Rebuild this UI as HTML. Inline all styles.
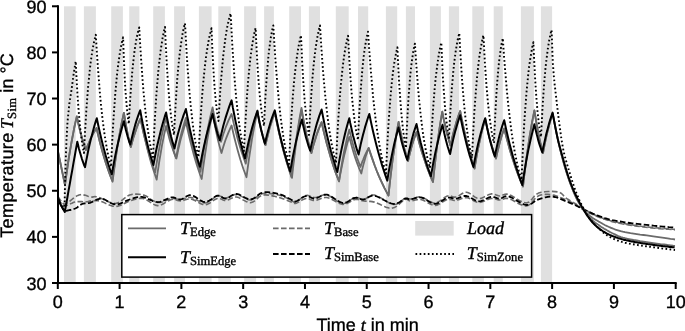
<!DOCTYPE html>
<html><head><meta charset="utf-8"><style>
html,body{margin:0;padding:0;background:#fff;width:685px;height:331px;overflow:hidden}
svg{display:block;will-change:transform}
text{text-rendering:geometricPrecision;stroke:#000;stroke-width:0.35px}
</style></head><body>
<svg width="685" height="331" viewBox="0 0 685 331">
<g fill="#e0e0e0">
<rect x="64.0" y="6.3" width="11.7" height="276"/>
<rect x="83.9" y="6.3" width="12.0" height="276"/>
<rect x="111.2" y="6.3" width="11.7" height="276"/>
<rect x="129.2" y="6.3" width="10.2" height="276"/>
<rect x="153.2" y="6.3" width="11.7" height="276"/>
<rect x="174.1" y="6.3" width="10.9" height="276"/>
<rect x="198.9" y="6.3" width="12.7" height="276"/>
<rect x="218.3" y="6.3" width="12.5" height="276"/>
<rect x="244.1" y="6.3" width="12.0" height="276"/>
<rect x="264.1" y="6.3" width="9.8" height="276"/>
<rect x="289.2" y="6.3" width="11.8" height="276"/>
<rect x="308.9" y="6.3" width="11.1" height="276"/>
<rect x="335.8" y="6.3" width="12.9" height="276"/>
<rect x="358.0" y="6.3" width="10.2" height="276"/>
<rect x="385.9" y="6.3" width="11.3" height="276"/>
<rect x="405.9" y="6.3" width="9.1" height="276"/>
<rect x="429.9" y="6.3" width="11.0" height="276"/>
<rect x="448.9" y="6.3" width="10.2" height="276"/>
<rect x="472.3" y="6.3" width="11.6" height="276"/>
<rect x="493.7" y="6.3" width="9.1" height="276"/>
<rect x="520.9" y="6.3" width="13.0" height="276"/>
<rect x="540.9" y="6.3" width="11.2" height="276"/>
</g>
<g fill="none" stroke-linejoin="round">
<path d="M58.0 198.5 L58.3 199.0 58.8 199.7 59.3 200.6 59.9 201.4 60.4 202.3 61.0 203.0 61.5 203.6 62.1 204.3 62.6 204.9 63.2 205.4 63.8 205.8 64.5 206.0 65.3 206.0 66.2 205.7 67.1 205.3 68.0 204.9 69.0 204.4 70.0 204.0 70.9 203.6 71.9 203.2 72.8 202.7 73.8 202.3 74.9 202.0 76.2 201.7 77.8 201.6 79.6 201.6 81.6 201.6 83.5 201.7 85.3 201.7 86.7 201.7 87.7 201.6 88.4 201.5 88.9 201.3 89.4 201.1 90.1 201.0 91.0 200.9 92.2 200.8 93.4 200.7 94.8 200.6 96.3 200.5 98.1 200.7 100.0 201.0 102.2 201.7 104.7 202.9 107.3 204.1 110.1 205.3 112.8 206.2 115.5 206.5 118.2 206.1 120.9 205.2 123.6 203.9 126.3 202.5 128.9 201.3 131.3 200.4 133.5 199.7 135.6 199.2 137.6 198.7 139.5 198.4 141.5 198.3 143.6 198.6 145.8 199.4 148.1 200.8 150.5 202.4 152.9 203.9 155.2 205.1 157.6 205.6 160.0 205.3 162.5 204.3 164.9 202.9 167.3 201.5 169.6 200.2 171.6 199.5 173.4 199.3 174.9 199.5 176.3 199.9 177.6 200.4 179.0 200.8 180.5 200.9 182.1 200.7 183.8 200.2 185.4 199.7 187.2 199.2 189.0 198.9 191.0 199.0 193.2 199.7 195.5 200.8 197.9 202.2 200.3 203.5 202.7 204.4 205.0 204.8 207.2 204.4 209.4 203.3 211.5 201.9 213.5 200.4 215.5 199.2 217.3 198.5 218.9 198.4 220.4 198.8 221.8 199.3 223.1 199.9 224.5 200.4 226.0 200.5 227.6 200.1 229.2 199.4 230.9 198.5 232.7 197.7 234.5 197.1 236.5 197.0 238.7 197.6 241.0 198.7 243.4 200.1 245.9 201.4 248.3 202.4 250.6 202.7 252.7 202.1 254.7 200.8 256.6 199.1 258.5 197.4 260.6 195.9 262.8 195.1 265.3 194.9 268.0 195.1 270.8 195.5 273.5 196.1 276.2 196.8 278.6 197.4 280.8 198.0 282.9 198.7 284.9 199.5 286.8 200.2 288.5 200.9 290.0 201.5 291.2 202.0 292.1 202.5 292.8 203.0 293.5 203.4 294.4 203.5 295.5 203.4 297.0 202.9 298.7 202.0 300.5 200.9 302.4 199.9 304.3 199.0 306.0 198.5 307.5 198.5 308.9 198.8 310.3 199.4 311.7 199.9 313.2 200.4 314.8 200.5 316.6 200.2 318.5 199.5 320.5 198.7 322.5 198.0 324.7 197.5 327.0 197.5 329.5 198.2 332.1 199.5 334.9 201.1 337.7 202.6 340.3 203.8 342.8 204.4 345.1 204.2 347.3 203.4 349.3 202.3 351.3 201.1 353.2 200.1 355.0 199.5 356.6 199.4 358.1 199.5 359.5 199.9 360.9 200.3 362.3 200.7 363.8 201.0 365.4 201.1 366.9 201.2 368.5 201.3 370.2 201.4 372.1 201.6 374.3 202.1 376.9 203.0 379.8 204.3 382.9 205.8 386.0 207.2 389.1 208.1 391.8 208.3 394.3 207.6 396.8 206.1 399.2 204.2 401.3 202.2 403.3 200.5 405.0 199.5 406.3 199.2 407.2 199.3 407.9 199.8 408.6 200.3 409.4 200.8 410.5 201.0 411.9 200.8 413.5 200.4 415.2 200.0 417.1 199.6 419.0 199.4 421.0 199.5 423.2 200.2 425.5 201.4 427.9 202.8 430.3 204.1 432.7 205.1 435.0 205.5 437.2 205.1 439.4 204.1 441.5 202.8 443.5 201.4 445.5 200.2 447.3 199.5 448.9 199.3 450.4 199.5 451.8 199.8 453.1 200.2 454.5 200.5 456.0 200.5 457.6 200.1 459.3 199.5 461.0 198.8 462.8 198.1 464.6 197.6 466.5 197.5 468.4 198.0 470.5 198.9 472.5 200.1 474.6 201.2 476.7 202.1 478.8 202.5 480.9 202.3 483.0 201.6 485.1 200.7 487.2 199.8 489.2 199.0 491.0 198.5 492.7 198.5 494.2 198.7 495.6 199.1 497.0 199.5 498.4 199.9 499.8 200.0 501.2 199.8 502.4 199.4 503.6 198.9 505.0 198.4 506.6 198.3 508.6 198.5 511.1 199.4 514.0 201.0 517.2 202.8 520.5 204.5 523.6 205.7 526.3 206.0 528.6 205.2 530.7 203.6 532.6 201.4 534.5 199.2 536.4 197.2 538.5 195.8 540.7 195.0 543.0 194.6 545.4 194.4 547.8 194.4 550.1 194.6 552.5 194.9 554.9 195.4 557.4 196.2 559.8 197.2 562.2 198.2 564.5 199.2 566.5 200.1 568.2 200.9 569.8 201.6 571.1 202.3 572.4 203.0 573.7 203.7 575.0 204.5 576.3 205.3 577.6 206.1 578.8 206.9 580.1 207.7 581.4 208.6 583.0 209.5 584.7 210.4 586.6 211.4 588.6 212.5 590.6 213.5 592.8 214.5 595.0 215.5 597.3 216.5 599.8 217.5 602.3 218.4 604.9 219.3 607.5 220.2 610.0 221.0 612.4 221.7 614.6 222.3 616.9 222.8 619.3 223.3 621.9 223.8 625.0 224.3 628.6 224.9 632.6 225.5 636.9 226.1 641.3 226.7 645.7 227.3 650.0 227.8 654.5 228.2 659.3 228.7 664.1 229.0 668.5 229.3 672.3 229.6 675.0 229.8" stroke="#6b6b6b" stroke-width="1.6" stroke-dasharray="5.6 2.4"/>
<path d="M58.0 196.5 L58.3 197.0 58.8 197.7 59.3 198.6 59.9 199.4 60.4 200.3 61.0 201.0 61.5 201.7 62.1 202.3 62.6 203.0 63.2 203.5 63.8 203.9 64.5 204.0 65.3 203.9 66.2 203.5 67.2 202.9 68.1 202.3 69.1 201.6 70.0 201.0 70.8 200.4 71.7 199.7 72.4 199.0 73.2 198.3 74.1 197.6 75.0 197.0 75.9 196.5 76.9 195.9 77.9 195.4 79.0 195.0 80.1 194.7 81.4 194.6 82.8 194.7 84.5 195.1 86.2 195.6 87.9 196.2 89.5 196.7 91.0 197.0 92.2 197.1 93.1 196.9 94.0 196.7 95.0 196.6 96.3 196.7 98.0 197.0 100.3 197.9 103.2 199.2 106.3 200.8 109.5 202.2 112.7 203.2 115.5 203.5 118.0 202.9 120.5 201.5 122.8 199.7 125.0 197.8 127.3 196.1 129.6 195.0 131.9 194.4 134.3 194.1 136.6 194.1 138.9 194.2 141.3 194.6 143.6 195.1 145.9 196.0 148.3 197.4 150.6 199.1 152.9 200.6 155.3 201.8 157.6 202.5 160.0 202.4 162.5 201.9 164.9 201.0 167.3 200.0 169.6 199.1 171.6 198.6 173.4 198.5 174.9 198.7 176.3 198.9 177.6 199.2 179.0 199.5 180.5 199.5 182.1 199.2 183.8 198.8 185.4 198.2 187.2 197.7 189.0 197.4 191.0 197.5 193.2 198.1 195.5 199.2 197.9 200.6 200.3 201.8 202.7 202.7 205.0 203.0 207.2 202.5 209.4 201.3 211.5 199.7 213.5 198.1 215.5 196.8 217.3 196.0 218.9 195.9 220.4 196.2 221.8 196.8 223.1 197.4 224.5 197.9 226.0 198.0 227.6 197.6 229.2 196.9 230.9 196.0 232.7 195.2 234.5 194.6 236.5 194.5 238.7 195.0 241.0 196.1 243.4 197.4 245.9 198.7 248.3 199.7 250.6 200.0 252.7 199.5 254.7 198.4 256.6 197.0 258.5 195.5 260.6 194.3 262.8 193.5 265.3 193.3 268.0 193.3 270.8 193.6 273.5 194.0 276.2 194.5 278.6 195.0 280.8 195.6 282.9 196.4 284.9 197.2 286.8 198.0 288.5 198.8 290.0 199.5 291.2 200.1 292.1 200.8 292.8 201.4 293.5 201.9 294.4 202.1 295.5 202.0 297.0 201.3 298.7 200.2 300.5 198.8 302.4 197.4 304.3 196.2 306.0 195.5 307.5 195.4 308.9 195.7 310.3 196.2 311.7 196.9 313.2 197.3 314.8 197.5 316.6 197.2 318.5 196.6 320.5 195.8 322.5 195.2 324.7 194.8 327.0 195.0 329.5 195.9 332.1 197.6 334.9 199.5 337.7 201.3 340.3 202.8 342.8 203.5 345.1 203.2 347.3 202.3 349.3 200.9 351.3 199.4 353.2 198.2 355.0 197.5 356.6 197.4 358.1 197.8 359.5 198.4 360.9 199.0 362.3 199.5 363.8 199.5 365.3 199.0 366.8 198.0 368.4 196.8 370.1 195.7 372.0 195.0 374.3 195.0 377.1 196.0 380.4 197.7 383.9 199.8 387.4 202.0 390.7 203.7 393.6 204.5 396.0 204.3 398.2 203.4 400.2 202.1 401.9 200.6 403.5 199.3 405.0 198.5 406.2 198.2 407.1 198.3 407.8 198.5 408.5 198.8 409.4 199.0 410.5 199.0 411.9 198.7 413.5 198.2 415.2 197.7 417.1 197.2 419.0 196.9 421.0 197.0 423.2 197.7 425.5 198.9 427.9 200.3 430.3 201.7 432.7 202.7 435.0 203.0 437.2 202.5 439.4 201.3 441.5 199.8 443.5 198.2 445.5 196.9 447.3 196.0 448.9 195.8 450.4 196.0 451.8 196.4 453.1 196.8 454.5 197.1 456.0 197.0 457.6 196.4 459.3 195.4 461.0 194.3 462.8 193.2 464.6 192.4 466.5 192.2 468.4 192.7 470.5 193.9 472.5 195.4 474.6 196.9 476.7 198.0 478.8 198.6 480.9 198.4 483.0 197.6 485.1 196.5 487.2 195.4 489.2 194.4 491.0 193.9 492.7 193.9 494.2 194.2 495.6 194.8 497.0 195.3 498.4 195.8 499.8 196.0 501.2 195.8 502.4 195.3 503.6 194.7 505.0 194.2 506.6 194.0 508.6 194.3 511.1 195.4 514.0 197.1 517.2 199.2 520.5 201.1 523.6 202.5 526.3 203.0 528.6 202.3 530.5 200.8 532.3 198.7 534.1 196.4 536.1 194.5 538.5 193.1 541.4 192.3 544.8 191.8 548.4 191.5 551.9 191.4 555.1 191.6 557.8 191.9 559.9 192.6 561.5 193.5 562.8 194.8 564.0 196.1 565.2 197.3 566.5 198.4 567.9 199.3 569.4 200.2 570.8 201.0 572.2 201.9 573.6 202.7 575.0 203.5 576.3 204.3 577.6 205.1 578.8 205.9 580.1 206.7 581.4 207.6 583.0 208.5 584.7 209.5 586.6 210.6 588.6 211.7 590.6 212.9 592.8 214.0 595.0 215.0 597.3 216.0 599.8 217.0 602.3 218.0 604.9 218.9 607.5 219.7 610.0 220.5 612.4 221.2 614.6 221.8 616.9 222.3 619.3 222.8 621.9 223.3 625.0 223.8 628.6 224.4 632.6 225.0 636.9 225.6 641.3 226.2 645.7 226.7 650.0 227.2 654.5 227.7 659.3 228.1 664.1 228.5 668.5 228.9 672.3 229.2 675.0 229.4" stroke="#6b6b6b" stroke-width="1.6" stroke-dasharray="5.6 2.4"/>
<path d="M58.0 197.5 L58.3 198.3 58.8 199.5 59.3 200.9 59.9 202.4 60.4 203.8 61.0 205.0 61.5 206.1 62.1 207.2 62.6 208.2 63.2 209.2 63.8 210.0 64.5 210.5 65.3 210.8 66.2 210.8 67.1 210.7 68.0 210.5 69.0 210.2 70.0 210.0 71.0 209.8 72.0 209.5 73.1 209.2 74.1 208.9 75.2 208.5 76.2 208.0 77.2 207.4 78.3 206.6 79.3 205.8 80.3 205.0 81.4 204.3 82.5 203.8 83.6 203.5 84.7 203.3 85.9 203.3 87.1 203.3 88.4 203.1 89.9 202.8 91.6 202.2 93.4 201.3 95.3 200.3 97.3 199.4 99.4 198.8 101.5 198.6 103.7 199.1 106.0 200.2 108.3 201.6 110.7 203.0 113.1 204.0 115.5 204.5 117.9 204.3 120.3 203.6 122.7 202.5 125.0 201.4 127.4 200.3 129.6 199.5 131.7 198.8 133.7 198.2 135.6 197.6 137.5 197.1 139.6 196.9 141.8 196.9 144.2 197.4 146.9 198.4 149.6 199.6 152.3 200.8 155.0 201.7 157.6 202.1 160.1 201.8 162.6 201.0 165.0 199.9 167.4 198.8 169.6 197.9 171.6 197.4 173.4 197.4 174.9 197.8 176.3 198.4 177.6 199.0 179.0 199.4 180.5 199.5 182.1 199.0 183.8 198.1 185.4 197.0 187.2 196.0 189.0 195.2 191.0 195.1 193.2 195.8 195.5 197.1 197.9 198.7 200.3 200.3 202.7 201.6 205.0 202.1 207.2 201.7 209.4 200.6 211.5 199.2 213.5 197.6 215.5 196.4 217.3 195.7 218.9 195.7 220.4 196.3 221.8 197.0 223.1 197.9 224.5 198.4 226.0 198.6 227.6 198.1 229.2 197.2 230.9 196.1 232.7 195.0 234.5 194.2 236.5 193.9 238.7 194.4 241.0 195.5 243.4 196.8 245.9 198.2 248.3 199.2 250.6 199.5 252.7 199.0 254.7 197.8 256.6 196.3 258.5 194.7 260.6 193.3 262.8 192.5 265.3 192.2 268.0 192.2 270.8 192.4 273.5 192.8 276.2 193.4 278.6 193.9 280.8 194.6 282.9 195.4 284.9 196.4 286.8 197.4 288.5 198.3 290.0 199.0 291.2 199.7 292.1 200.3 292.8 200.9 293.5 201.4 294.4 201.6 295.5 201.5 297.0 201.0 298.7 200.0 300.5 198.7 302.4 197.5 304.3 196.5 306.0 196.0 307.5 196.0 308.9 196.5 310.3 197.2 311.7 197.9 313.2 198.5 314.8 198.6 316.6 198.2 318.5 197.3 320.5 196.2 322.5 195.3 324.7 194.6 327.0 194.6 329.5 195.4 332.1 197.0 334.9 198.9 337.7 200.7 340.3 202.2 342.8 203.0 345.1 202.8 347.3 202.0 349.3 200.8 351.3 199.5 353.2 198.4 355.0 197.8 356.6 197.7 358.1 198.1 359.5 198.6 360.9 199.1 362.3 199.5 363.8 199.5 365.3 199.0 366.8 198.2 368.4 197.2 370.1 196.3 372.0 195.7 374.3 195.7 377.1 196.5 380.4 198.1 383.9 200.0 387.4 201.8 390.7 203.3 393.6 204.0 396.0 203.8 398.2 202.9 400.2 201.7 401.9 200.4 403.5 199.2 405.0 198.5 406.2 198.3 407.1 198.5 407.8 198.8 408.5 199.2 409.4 199.4 410.5 199.5 411.9 199.2 413.5 198.7 415.2 198.1 417.1 197.6 419.0 197.3 421.0 197.4 423.2 198.1 425.5 199.4 427.9 200.9 430.3 202.3 432.7 203.4 435.0 203.9 437.2 203.5 439.4 202.5 441.5 201.2 443.5 199.8 445.5 198.6 447.3 197.8 448.9 197.6 450.4 197.7 451.8 198.0 453.1 198.3 454.5 198.6 456.0 198.6 457.6 198.3 459.3 197.7 461.0 197.0 462.8 196.4 464.6 196.0 466.5 196.0 468.4 196.5 470.5 197.5 472.5 198.8 474.6 200.0 476.7 200.9 478.8 201.3 480.9 201.1 483.0 200.3 485.1 199.3 487.2 198.3 489.2 197.4 491.0 196.9 492.7 196.9 494.2 197.2 495.6 197.6 497.0 198.1 498.4 198.5 499.8 198.6 501.2 198.3 502.4 197.7 503.6 197.0 505.0 196.4 506.6 196.1 508.6 196.3 511.1 197.3 514.0 198.9 517.2 200.9 520.5 202.8 523.6 204.3 526.3 205.0 528.6 204.8 530.7 204.1 532.6 202.9 534.5 201.5 536.4 200.2 538.5 199.3 540.7 198.6 543.0 197.9 545.4 197.3 547.8 196.8 550.1 196.6 552.5 196.6 554.9 197.0 557.4 197.7 559.8 198.7 562.2 199.7 564.5 200.7 566.5 201.5 568.2 202.2 569.8 202.8 571.1 203.3 572.4 203.8 573.7 204.4 575.0 205.0 576.3 205.6 577.6 206.2 578.8 206.9 580.1 207.5 581.4 208.2 583.0 209.0 584.7 209.8 586.6 210.7 588.6 211.7 590.6 212.6 592.8 213.6 595.0 214.5 597.3 215.4 599.8 216.3 602.3 217.2 604.9 218.1 607.5 218.9 610.0 219.6 612.5 220.2 615.0 220.7 617.5 221.2 620.0 221.5 622.5 221.9 625.0 222.3 627.4 222.7 629.8 223.0 632.2 223.3 634.6 223.6 637.2 223.9 640.0 224.2 643.1 224.5 646.5 224.9 650.0 225.3 653.5 225.7 656.9 226.0 660.0 226.3 663.0 226.6 665.9 226.8 668.8 227.1 671.3 227.3 673.4 227.5 675.0 227.6" stroke="#000" stroke-width="1.8" stroke-dasharray="5.6 2.4"/>
<path d="M58.0 151.5 L65.0 185.0 66.2 176.1 67.4 167.8 68.5 160.0 69.7 152.6 70.9 145.6 72.1 139.0 73.3 132.9 74.4 127.0 75.6 121.6 76.8 116.4 77.7 120.7 78.6 124.8 79.6 128.7 80.5 132.3 81.4 135.7 82.3 138.9 83.2 141.9 84.2 144.8 85.1 147.5 86.0 150.0 87.0 147.2 88.1 144.5 89.2 142.0 90.2 139.6 91.2 137.4 92.3 135.3 93.3 133.3 94.4 131.4 95.5 129.7 96.5 128.0 98.1 134.9 99.7 141.5 101.3 147.6 102.9 153.4 104.5 158.8 106.2 164.0 107.8 168.8 109.4 173.4 111.0 177.7 112.6 181.7 113.7 172.8 114.9 164.4 116.0 156.5 117.1 149.1 118.2 142.1 119.4 135.5 120.5 129.3 121.6 123.5 122.8 118.0 123.9 112.8 124.6 117.2 125.3 121.4 126.0 125.3 126.7 129.0 127.4 132.4 128.0 135.7 128.7 138.8 129.4 141.7 130.1 144.4 130.8 147.0 131.8 143.3 132.7 139.9 133.7 136.6 134.7 133.6 135.7 130.7 136.6 128.0 137.6 125.4 138.6 123.0 139.5 120.7 140.5 118.6 142.1 126.5 143.7 133.9 145.4 140.9 147.0 147.4 148.6 153.6 150.2 159.5 151.8 165.0 153.5 170.1 155.1 175.0 156.7 179.6 157.6 172.7 158.6 166.2 159.5 160.0 160.5 154.3 161.4 148.8 162.3 143.7 163.3 138.9 164.2 134.3 165.2 130.0 166.1 126.0 167.1 130.2 168.2 134.1 169.2 137.9 170.2 141.4 171.2 144.7 172.3 147.8 173.3 150.7 174.3 153.5 175.4 156.1 176.4 158.5 177.4 153.8 178.3 149.4 179.3 145.2 180.2 141.3 181.2 137.6 182.2 134.2 183.1 130.9 184.1 127.8 185.0 124.9 186.0 122.2 187.6 129.5 189.1 136.4 190.7 142.9 192.3 149.1 193.8 154.8 195.4 160.3 197.0 165.4 198.6 170.2 200.1 174.7 201.7 179.0 202.8 170.5 203.9 162.5 205.0 154.9 206.1 147.8 207.1 141.1 208.2 134.8 209.3 128.8 210.4 123.2 211.5 118.0 212.6 113.0 213.5 118.2 214.4 123.0 215.3 127.6 216.2 131.9 217.1 136.0 217.9 139.8 218.8 143.4 219.7 146.8 220.6 150.0 221.5 153.0 222.5 149.5 223.5 146.1 224.5 143.0 225.5 140.0 226.6 137.2 227.6 134.6 228.6 132.1 229.6 129.8 230.6 127.6 231.6 125.5 233.1 132.2 234.6 138.5 236.1 144.4 237.6 149.9 239.1 155.2 240.5 160.1 242.0 164.8 243.5 169.2 245.0 173.3 246.5 177.2 247.6 168.8 248.7 160.9 249.8 153.4 250.9 146.4 251.9 139.7 253.0 133.5 254.1 127.6 255.2 122.1 256.3 116.9 257.4 112.0 258.2 116.3 259.0 120.3 259.8 124.0 260.6 127.6 261.4 131.0 262.3 134.1 263.1 137.1 263.9 139.9 264.7 142.5 265.5 145.0 266.4 140.9 267.4 137.0 268.3 133.3 269.2 129.9 270.1 126.6 271.1 123.6 272.0 120.7 272.9 118.0 273.9 115.4 274.8 113.0 276.5 121.4 278.2 129.2 280.0 136.7 281.7 143.6 283.4 150.2 285.1 156.4 286.8 162.3 288.6 167.8 290.3 172.9 292.0 177.8 292.9 169.0 293.9 160.8 294.9 153.0 295.8 145.7 296.8 138.9 297.7 132.4 298.6 126.3 299.6 120.5 300.6 115.1 301.5 110.0 302.5 115.6 303.5 120.8 304.5 125.7 305.5 130.3 306.4 134.7 307.4 138.8 308.4 142.7 309.4 146.3 310.4 149.8 311.4 153.0 312.4 149.0 313.4 145.3 314.5 141.8 315.5 138.4 316.5 135.3 317.5 132.4 318.5 129.6 319.6 127.0 320.6 124.5 321.6 122.2 323.3 129.8 325.1 137.0 326.8 143.8 328.6 150.1 330.3 156.1 332.0 161.8 333.8 167.1 335.5 172.1 337.3 176.9 339.0 181.3 340.0 175.6 341.1 170.1 342.1 165.1 343.1 160.3 344.1 155.7 345.2 151.5 346.2 147.5 347.2 143.7 348.3 140.1 349.3 136.8 350.5 141.5 351.7 146.0 352.9 150.2 354.1 154.2 355.3 157.9 356.5 161.4 357.7 164.7 358.9 167.8 360.1 170.7 361.3 173.5 362.0 170.2 362.8 167.1 363.5 164.2 364.3 161.4 365.0 158.9 365.7 156.4 366.5 154.1 367.2 152.0 368.0 149.9 368.7 148.0 370.7 154.1 372.7 159.9 374.6 165.3 376.6 170.5 378.6 175.3 380.6 179.8 382.6 184.1 384.5 188.1 386.5 191.9 388.5 195.5 389.5 186.0 390.5 177.0 391.5 168.6 392.5 160.6 393.6 153.2 394.6 146.1 395.6 139.5 396.6 133.2 397.6 127.3 398.6 121.8 399.5 126.9 400.5 131.6 401.4 136.1 402.4 140.3 403.3 144.3 404.2 148.1 405.2 151.6 406.1 154.9 407.1 158.1 408.0 161.0 408.9 157.3 409.7 153.8 410.6 150.5 411.4 147.4 412.2 144.5 413.1 141.7 413.9 139.1 414.8 136.7 415.6 134.4 416.5 132.2 418.1 138.6 419.8 144.7 421.4 150.4 423.1 155.8 424.8 160.8 426.4 165.6 428.1 170.1 429.7 174.3 431.4 178.3 433.0 182.0 433.9 172.9 434.9 164.4 435.8 156.3 436.7 148.8 437.6 141.6 438.6 134.9 439.5 128.6 440.4 122.6 441.4 117.0 442.3 111.7 443.1 116.1 443.9 120.2 444.8 124.0 445.6 127.7 446.4 131.1 447.2 134.3 448.0 137.4 448.9 140.3 449.7 143.0 450.5 145.5 451.5 141.0 452.4 136.9 453.4 132.9 454.4 129.2 455.4 125.7 456.3 122.4 457.3 119.3 458.3 116.4 459.2 113.6 460.2 111.0 461.6 118.4 463.1 125.4 464.5 132.0 465.9 138.2 467.4 144.0 468.8 149.5 470.2 154.7 471.6 159.6 473.1 164.2 474.5 168.5 475.6 162.1 476.6 156.1 477.7 150.4 478.8 145.1 479.9 140.1 480.9 135.3 482.0 130.9 483.1 126.7 484.1 122.7 485.2 119.0 486.3 124.1 487.4 128.9 488.4 133.4 489.5 137.7 490.6 141.7 491.7 145.5 492.8 149.0 493.8 152.4 494.9 155.5 496.0 158.5 496.8 154.6 497.6 151.0 498.5 147.5 499.3 144.3 500.1 141.3 500.9 138.4 501.7 135.7 502.6 133.2 503.4 130.8 504.2 128.5 506.1 136.0 508.0 143.0 509.8 149.7 511.7 155.9 513.6 161.8 515.5 167.4 517.4 172.6 519.2 177.5 521.1 182.1 523.0 186.5 524.1 176.7 525.3 167.4 526.4 158.7 527.6 150.5 528.7 142.8 529.8 135.5 531.0 128.7 532.1 122.2 533.3 116.1 534.4 110.4 535.3 115.9 536.1 121.1 537.0 126.0 537.8 130.5 538.7 134.9 539.6 138.9 540.4 142.8 541.3 146.4 542.1 149.8 543.0 153.0 544.0 147.9 544.9 143.1 545.9 138.6 546.8 134.3 547.8 130.3 548.8 126.5 549.7 123.0 550.7 119.6 551.6 116.5 552.6 113.5 553.8 119.2 555.0 125.5 556.2 131.5 557.4 137.2 558.6 142.6 559.8 147.8 561.0 152.7 562.2 157.3 563.4 161.8 564.6 166.0 565.8 170.0 567.0 173.8 568.2 177.5 569.4 180.9 570.6 184.2 571.8 187.3 573.0 190.3 574.2 193.1 575.4 195.8 576.6 198.4 577.8 200.8 578.2 201.4 578.7 202.2 579.2 203.2 579.9 204.3 580.6 205.4 581.4 206.6 582.2 207.8 583.0 209.0 583.9 210.2 584.8 211.4 585.8 212.7 586.8 214.1 587.8 215.4 588.9 216.7 589.9 217.9 591.0 219.0 592.1 220.0 593.1 221.0 594.2 221.8 595.2 222.7 596.4 223.5 597.5 224.3 598.7 225.1 600.0 226.0 601.3 226.9 602.8 227.8 604.2 228.7 605.8 229.6 607.3 230.5 608.9 231.4 610.4 232.2 612.0 233.0 613.5 233.7 614.9 234.4 616.3 235.1 617.7 235.8 619.2 236.4 620.9 237.0 622.8 237.6 625.0 238.2 627.6 238.8 630.4 239.4 633.5 240.0 636.8 240.5 640.1 241.1 643.5 241.6 646.8 242.1 650.0 242.6 653.3 243.1 656.8 243.6 660.5 244.1 664.1 244.5 667.5 245.0 670.5 245.3 673.1 245.7 675.0 245.9" stroke="#6b6b6b" stroke-width="1.8"/>
<path d="M58.0 151.5 L65.0 185.0 66.2 176.1 67.4 167.8 68.5 160.0 69.7 152.6 70.9 145.6 72.1 139.0 73.3 132.9 74.4 127.0 75.6 121.6 76.8 116.4 77.7 120.7 78.6 124.8 79.6 128.7 80.5 132.3 81.4 135.7 82.3 138.9 83.2 141.9 84.2 144.8 85.1 147.5 86.0 150.0 87.0 147.2 88.1 144.5 89.2 142.0 90.2 139.6 91.2 137.4 92.3 135.3 93.3 133.3 94.4 131.4 95.5 129.7 96.5 128.0 98.1 134.8 99.7 141.3 101.3 147.4 102.9 153.1 104.5 158.4 106.0 163.5 107.6 168.3 109.2 172.8 110.8 177.0 112.4 181.0 113.6 172.2 114.7 163.9 115.9 156.1 117.0 148.7 118.2 141.8 119.3 135.3 120.5 129.2 121.6 123.4 122.8 117.9 123.9 112.8 124.6 117.2 125.3 121.4 126.0 125.3 126.7 129.0 127.4 132.4 128.0 135.7 128.7 138.8 129.4 141.7 130.1 144.4 130.8 147.0 131.8 143.3 132.7 139.9 133.7 136.6 134.7 133.6 135.7 130.7 136.6 128.0 137.6 125.4 138.6 123.0 139.5 120.7 140.5 118.6 142.0 125.5 143.4 132.1 144.9 138.2 146.4 144.0 147.8 149.5 149.3 154.6 150.8 159.5 152.3 164.1 153.7 168.4 155.2 172.4 156.3 165.4 157.4 158.8 158.5 152.5 159.6 146.7 160.6 141.2 161.7 135.9 162.8 131.0 163.9 126.4 165.0 122.1 166.1 118.0 167.1 123.2 168.1 128.0 169.1 132.6 170.1 136.9 171.1 141.0 172.0 144.8 173.0 148.4 174.0 151.8 175.0 155.0 176.0 158.0 177.0 152.8 178.0 147.9 179.0 143.3 180.0 138.9 181.0 134.8 182.0 131.0 183.0 127.4 184.0 123.9 185.0 120.7 186.0 117.7 187.4 124.7 188.9 131.3 190.3 137.5 191.8 143.3 193.2 148.8 194.7 154.0 196.2 158.8 197.6 163.4 199.1 167.7 200.5 171.8 201.7 163.5 202.9 155.6 204.1 148.3 205.3 141.3 206.6 134.7 207.8 128.6 209.0 122.8 210.2 117.3 211.4 112.2 212.6 107.3 213.4 111.8 214.3 115.9 215.1 119.9 216.0 123.6 216.8 127.1 217.6 130.4 218.5 133.5 219.3 136.4 220.2 139.2 221.0 141.8 222.1 138.2 223.1 134.8 224.2 131.7 225.2 128.7 226.3 125.8 227.4 123.2 228.4 120.7 229.5 118.3 230.5 116.1 231.6 114.0 233.0 120.4 234.4 126.4 235.9 132.1 237.3 137.5 238.7 142.5 240.1 147.2 241.5 151.7 243.0 155.9 244.4 159.9 245.8 163.6 247.0 156.7 248.1 150.3 249.3 144.2 250.4 138.4 251.6 133.0 252.8 128.0 253.9 123.2 255.1 118.7 256.2 114.4 257.4 110.4 258.2 114.9 259.0 119.1 259.8 123.0 260.6 126.8 261.4 130.3 262.3 133.6 263.1 136.7 263.9 139.6 264.7 142.4 265.5 145.0 266.4 140.7 267.4 136.7 268.3 133.0 269.2 129.4 270.1 126.0 271.1 122.9 272.0 119.9 272.9 117.1 273.9 114.5 274.8 112.0 276.5 120.4 278.1 128.3 279.8 135.8 281.5 142.8 283.1 149.5 284.8 155.7 286.5 161.6 288.2 167.1 289.8 172.3 291.5 177.2 292.5 168.3 293.5 159.9 294.5 151.9 295.5 144.5 296.5 137.4 297.5 130.8 298.5 124.6 299.5 118.7 300.5 113.2 301.5 108.0 302.5 113.8 303.5 119.3 304.5 124.4 305.5 129.3 306.4 133.8 307.4 138.2 308.4 142.2 309.4 146.0 310.4 149.6 311.4 153.0 312.4 149.0 313.4 145.3 314.5 141.8 315.5 138.4 316.5 135.3 317.5 132.4 318.5 129.6 319.6 127.0 320.6 124.5 321.6 122.2 323.3 129.8 325.1 137.0 326.8 143.8 328.6 150.1 330.3 156.1 332.0 161.8 333.8 167.1 335.5 172.1 337.3 176.9 339.0 181.3 340.0 174.6 341.1 168.3 342.1 162.4 343.1 156.8 344.1 151.5 345.2 146.6 346.2 141.9 347.2 137.5 348.3 133.4 349.3 129.5 350.4 134.3 351.5 138.9 352.7 143.2 353.8 147.2 354.9 151.0 356.0 154.6 357.1 158.0 358.3 161.2 359.4 164.2 360.5 167.0 361.3 164.5 362.1 162.2 363.0 160.1 363.8 158.0 364.6 156.1 365.4 154.3 366.2 152.6 367.1 150.9 367.9 149.4 368.7 148.0 370.7 154.1 372.7 159.9 374.6 165.3 376.6 170.5 378.6 175.3 380.6 179.8 382.6 184.1 384.5 188.1 386.5 191.9 388.5 195.5 389.5 186.0 390.5 177.0 391.5 168.6 392.5 160.6 393.6 153.2 394.6 146.1 395.6 139.5 396.6 133.2 397.6 127.3 398.6 121.8 399.5 126.9 400.5 131.6 401.4 136.1 402.4 140.3 403.3 144.3 404.2 148.1 405.2 151.6 406.1 154.9 407.1 158.1 408.0 161.0 408.9 157.3 409.7 153.8 410.6 150.5 411.4 147.4 412.2 144.5 413.1 141.7 413.9 139.1 414.8 136.7 415.6 134.4 416.5 132.2 418.1 138.6 419.8 144.7 421.4 150.4 423.1 155.8 424.8 160.8 426.4 165.6 428.1 170.1 429.7 174.3 431.4 178.3 433.0 182.0 433.9 172.9 434.9 164.4 435.8 156.3 436.7 148.8 437.6 141.6 438.6 134.9 439.5 128.6 440.4 122.6 441.4 117.0 442.3 111.7 443.1 116.1 443.9 120.2 444.8 124.0 445.6 127.7 446.4 131.1 447.2 134.3 448.0 137.4 448.9 140.3 449.7 143.0 450.5 145.5 451.5 141.0 452.4 136.9 453.4 132.9 454.4 129.2 455.4 125.7 456.3 122.4 457.3 119.3 458.3 116.4 459.2 113.6 460.2 111.0 461.6 118.4 463.1 125.4 464.5 132.0 465.9 138.2 467.4 144.0 468.8 149.5 470.2 154.7 471.6 159.6 473.1 164.2 474.5 168.5 475.6 162.1 476.6 156.1 477.7 150.4 478.8 145.1 479.9 140.1 480.9 135.3 482.0 130.9 483.1 126.7 484.1 122.7 485.2 119.0 486.3 124.1 487.4 128.9 488.4 133.4 489.5 137.7 490.6 141.7 491.7 145.5 492.8 149.0 493.8 152.4 494.9 155.5 496.0 158.5 496.8 154.6 497.6 151.0 498.5 147.5 499.3 144.3 500.1 141.3 500.9 138.4 501.7 135.7 502.6 133.2 503.4 130.8 504.2 128.5 506.1 136.0 508.0 143.0 509.8 149.7 511.7 155.9 513.6 161.8 515.5 167.4 517.4 172.6 519.2 177.5 521.1 182.1 523.0 186.5 524.1 176.7 525.3 167.4 526.4 158.7 527.6 150.5 528.7 142.8 529.8 135.5 531.0 128.7 532.1 122.2 533.3 116.1 534.4 110.4 535.3 115.9 536.1 121.1 537.0 126.0 537.8 130.5 538.7 134.9 539.6 138.9 540.4 142.8 541.3 146.4 542.1 149.8 543.0 153.0 544.0 147.9 544.9 143.1 545.9 138.6 546.8 134.3 547.8 130.3 548.8 126.5 549.7 123.0 550.7 119.6 551.6 116.5 552.6 113.5 553.8 119.2 555.0 125.5 556.2 131.5 557.4 137.2 558.6 142.6 559.8 147.8 561.0 152.7 562.2 157.3 563.4 161.8 564.6 166.0 565.8 170.0 567.0 173.8 568.2 177.5 569.4 180.9 570.6 184.2 571.8 187.3 573.0 190.3 574.2 193.1 575.4 195.8 576.6 198.4 577.8 200.8 578.2 201.4 578.7 202.2 579.3 203.2 580.0 204.2 580.7 205.4 581.5 206.5 582.2 207.6 583.0 208.6 583.8 209.6 584.6 210.5 585.4 211.5 586.2 212.4 587.1 213.3 588.0 214.2 589.0 215.1 590.0 216.0 591.1 216.8 592.3 217.7 593.5 218.5 594.8 219.3 596.0 220.0 597.4 220.8 598.7 221.6 600.0 222.3 601.3 223.0 602.6 223.8 603.9 224.5 605.2 225.2 606.6 225.9 608.0 226.5 609.5 227.2 611.0 227.8 612.5 228.4 614.0 229.0 615.5 229.6 617.1 230.1 618.8 230.6 620.7 231.2 622.7 231.7 625.0 232.2 627.6 232.7 630.5 233.2 633.6 233.6 636.8 234.1 640.1 234.6 643.5 235.0 646.8 235.4 650.0 235.9 653.3 236.4 656.8 236.9 660.5 237.4 664.1 237.9 667.5 238.4 670.5 238.9 673.1 239.2 675.0 239.5" stroke="#6b6b6b" stroke-width="1.8"/>
<path d="M58.0 200.0 L64.8 212.0 66.0 205.0 67.3 198.0 68.5 190.9 69.8 183.9 71.0 176.9 72.3 169.9 73.5 162.9 74.8 155.8 76.0 148.8 77.3 141.8 78.1 145.1 78.8 148.2 79.6 151.1 80.4 153.8 81.2 156.4 81.9 158.8 82.7 161.1 83.5 163.3 84.2 165.3 85.0 167.2 86.2 160.9 87.4 154.9 88.5 149.3 89.7 144.0 90.9 139.1 92.1 134.4 93.3 130.0 94.4 125.8 95.6 121.9 96.8 118.2 98.3 125.5 99.8 132.3 101.3 138.7 102.8 144.8 104.3 150.5 105.8 155.9 107.3 160.9 108.8 165.7 110.3 170.2 111.8 174.4 113.0 167.5 114.2 161.1 115.4 155.0 116.6 149.3 117.8 143.9 119.1 138.8 120.3 134.0 121.5 129.5 122.7 125.3 123.9 121.3 124.5 124.3 125.2 127.1 125.8 129.8 126.5 132.3 127.1 134.6 127.7 136.8 128.4 138.9 129.0 140.9 129.7 142.8 130.3 144.5 131.3 140.1 132.3 135.9 133.3 132.0 134.3 128.3 135.2 124.9 136.2 121.6 137.2 118.5 138.2 115.6 139.2 112.9 140.2 110.3 141.5 117.4 142.8 124.0 144.2 130.3 145.5 136.2 146.8 141.7 148.1 147.0 149.4 151.9 150.8 156.5 152.1 160.9 153.4 165.0 154.7 158.2 155.9 151.8 157.2 145.8 158.5 140.2 159.8 134.8 161.0 129.8 162.3 125.1 163.6 120.6 164.8 116.4 166.1 112.5 166.9 117.1 167.8 121.5 168.6 125.6 169.5 129.5 170.3 133.2 171.1 136.6 172.0 139.9 172.8 142.9 173.7 145.8 174.5 148.5 175.6 143.4 176.8 138.6 177.9 134.1 179.1 129.8 180.2 125.8 181.3 122.0 182.5 118.5 183.6 115.1 184.8 112.0 185.9 109.0 187.3 116.5 188.7 123.5 190.1 130.1 191.5 136.3 192.9 142.2 194.3 147.7 195.7 152.9 197.1 157.8 198.5 162.5 199.9 166.8 201.2 160.0 202.4 153.6 203.7 147.5 205.0 141.8 206.2 136.5 207.5 131.4 208.8 126.7 210.1 122.2 211.3 118.0 212.6 114.0 213.3 117.4 214.0 120.6 214.8 123.6 215.5 126.4 216.2 129.1 216.9 131.6 217.6 134.0 218.4 136.2 219.1 138.3 219.8 140.3 221.0 135.2 222.2 130.3 223.3 125.7 224.5 121.4 225.7 117.4 226.9 113.6 228.1 110.0 229.2 106.6 230.4 103.4 231.6 100.4 232.9 107.9 234.3 115.0 235.6 121.6 237.0 127.9 238.3 133.8 239.6 139.3 241.0 144.6 242.3 149.5 243.7 154.1 245.0 158.5 246.2 152.4 247.5 146.6 248.7 141.2 250.0 136.0 251.2 131.2 252.4 126.7 253.7 122.4 254.9 118.4 256.2 114.6 257.4 111.0 258.1 115.2 258.9 119.2 259.6 122.9 260.4 126.4 261.1 129.7 261.9 132.8 262.6 135.8 263.4 138.5 264.1 141.1 264.9 143.6 265.9 139.3 266.9 135.3 267.9 131.5 268.9 127.9 269.9 124.5 270.8 121.4 271.8 118.4 272.8 115.5 273.8 112.9 274.8 110.4 276.3 118.3 277.9 125.7 279.4 132.7 281.0 139.3 282.5 145.5 284.0 151.3 285.6 156.8 287.1 162.0 288.7 166.9 290.2 171.5 291.4 164.8 292.5 158.5 293.7 152.5 294.9 146.9 296.0 141.6 297.2 136.7 298.4 132.0 299.6 127.6 300.7 123.4 301.9 119.5 302.7 123.5 303.6 127.3 304.4 130.9 305.2 134.3 306.0 137.5 306.9 140.5 307.7 143.3 308.5 145.9 309.4 148.4 310.2 150.8 311.3 145.5 312.5 140.4 313.6 135.7 314.8 131.3 315.9 127.1 317.0 123.1 318.2 119.4 319.3 115.9 320.5 112.6 321.6 109.5 323.2 117.6 324.7 125.2 326.3 132.3 327.9 139.1 329.5 145.4 331.0 151.4 332.6 157.0 334.2 162.3 335.7 167.3 337.3 172.0 338.5 165.1 339.7 158.5 340.9 152.4 342.1 146.6 343.3 141.1 344.5 136.0 345.7 131.1 346.9 126.5 348.1 122.2 349.3 118.2 350.2 122.9 351.2 127.3 352.1 131.5 353.0 135.4 354.0 139.1 354.9 142.5 355.8 145.8 356.7 148.9 357.7 151.8 358.6 154.5 359.7 149.3 360.7 144.3 361.8 139.7 362.9 135.3 364.0 131.2 365.0 127.4 366.1 123.7 367.2 120.3 368.2 117.0 369.3 114.0 371.1 122.6 372.9 130.7 374.7 138.3 376.5 145.5 378.3 152.3 380.1 158.6 381.9 164.6 383.7 170.3 385.5 175.6 387.3 180.6 388.4 173.7 389.5 167.3 390.7 161.2 391.8 155.5 392.9 150.1 394.0 145.0 395.1 140.2 396.3 135.7 397.4 131.5 398.5 127.5 399.4 131.7 400.3 135.6 401.1 139.4 402.0 142.9 402.9 146.2 403.8 149.3 404.7 152.2 405.5 155.0 406.4 157.6 407.3 160.0 408.2 155.4 409.1 151.0 410.1 146.9 411.0 143.0 411.9 139.3 412.8 135.9 413.7 132.6 414.7 129.6 415.6 126.7 416.5 124.0 417.9 130.7 419.4 137.1 420.8 143.1 422.3 148.7 423.7 154.0 425.1 159.0 426.6 163.7 428.0 168.1 429.5 172.3 430.9 176.2 432.1 169.6 433.2 163.3 434.4 157.4 435.5 151.9 436.7 146.7 437.9 141.8 439.0 137.1 440.2 132.8 441.3 128.7 442.5 124.8 443.3 128.6 444.0 132.1 444.8 135.5 445.5 138.6 446.3 141.6 447.1 144.4 447.8 147.0 448.6 149.5 449.3 151.8 450.1 154.0 451.1 149.0 452.1 144.3 453.1 139.9 454.1 135.7 455.1 131.8 456.2 128.1 457.2 124.6 458.2 121.3 459.2 118.2 460.2 115.3 461.5 122.0 462.8 128.3 464.2 134.2 465.5 139.7 466.8 145.0 468.1 149.9 469.4 154.6 470.8 159.0 472.1 163.1 473.4 167.0 474.6 160.7 475.8 154.8 476.9 149.2 478.1 143.9 479.3 139.0 480.5 134.3 481.7 129.9 482.8 125.8 484.0 121.9 485.2 118.2 486.2 123.1 487.1 127.8 488.1 132.2 489.0 136.3 490.0 140.2 491.0 143.9 491.9 147.3 492.9 150.6 493.8 153.6 494.8 156.5 495.7 151.8 496.7 147.4 497.6 143.2 498.6 139.3 499.5 135.6 500.4 132.2 501.4 128.9 502.3 125.8 503.3 122.9 504.2 120.2 506.0 128.6 507.8 136.4 509.6 143.9 511.4 150.8 513.2 157.4 515.1 163.6 516.9 169.5 518.7 175.0 520.5 180.1 522.3 185.0 523.5 177.2 524.7 169.8 525.9 162.8 527.1 156.3 528.3 150.1 529.6 144.3 530.8 138.9 532.0 133.7 533.2 128.9 534.4 124.3 535.2 127.9 536.0 131.3 536.8 134.6 537.6 137.6 538.3 140.4 539.1 143.1 539.9 145.7 540.7 148.0 541.5 150.3 542.3 152.4 543.3 147.3 544.4 142.4 545.4 137.9 546.4 133.6 547.5 129.5 548.5 125.7 549.5 122.1 550.5 118.8 551.6 115.6 552.6 112.6 553.6 118.1 554.6 123.4 555.6 128.6 556.6 133.6 557.6 138.3 558.6 142.5 559.6 146.2 560.6 149.8 561.6 153.4 562.6 157.1 563.6 160.7 564.6 164.2 565.6 167.7 566.6 171.0 567.6 174.2 568.6 177.2 569.6 180.1 570.6 182.9 571.6 185.5 572.6 188.0 573.6 190.4 574.6 192.6 575.6 194.7 576.6 196.8 577.6 198.7 578.6 200.7 579.6 202.6 580.6 204.5 581.6 206.4 582.6 208.1 583.6 209.8 584.6 211.4 585.6 213.0 586.6 214.6 587.6 216.1 588.6 217.5 589.6 218.8 590.6 220.1 591.6 221.3 592.6 222.5 593.6 223.6 594.6 224.6 595.6 225.6 596.6 226.5 597.6 227.3 598.6 228.1 599.6 228.9 600.6 229.6 601.6 230.3 602.6 231.0 603.6 231.6 604.6 232.2 605.6 232.8 606.6 233.4 607.6 233.9 608.6 234.4 609.6 234.8 610.6 235.3 611.6 235.7 612.6 236.1 613.6 236.5 614.6 236.8 615.6 237.2 616.6 237.5 617.6 237.9 618.6 238.2 619.6 238.5 620.6 238.8 621.6 239.1 622.6 239.4 623.6 239.7 624.6 239.9 625.6 240.1 626.6 240.4 627.6 240.6 628.6 240.8 629.6 241.0 630.6 241.2 631.6 241.4 632.6 241.6 633.6 241.8 634.6 242.0 635.6 242.2 636.6 242.3 637.6 242.5 638.6 242.7 639.6 242.8 640.6 243.0 641.6 243.2 642.6 243.3 643.6 243.5 644.6 243.6 645.6 243.8 646.6 243.9 647.6 244.1 648.6 244.2 649.6 244.3 650.6 244.5 651.6 244.6 652.6 244.8 653.6 244.9 654.6 245.0 655.6 245.2 656.6 245.3 657.6 245.4 658.6 245.6 659.6 245.7 660.6 245.8 661.6 245.9 662.6 246.1 663.6 246.2 664.6 246.3 665.6 246.4 666.6 246.5 667.6 246.6 668.6 246.8 669.6 246.9 670.6 247.0 671.6 247.1 672.6 247.2 673.6 247.3 674.6 247.4" stroke="#000" stroke-width="2.0"/>
<path d="M58.0 199.0 L64.5 210.0 65.0 185.0 65.7 160.0 66.5 140.0 67.5 122.0 69.3 104.0 71.5 90.0 73.5 75.0 75.7 61.2 76.3 73.6 76.9 84.7 77.5 94.6 78.1 103.4 78.7 111.3 79.3 118.3 79.8 124.5 80.4 130.1 81.0 135.1 81.6 139.5 82.2 143.5 82.8 147.0 83.4 150.2 84.0 153.0 84.8 135.9 85.7 120.9 86.5 107.7 87.4 96.1 88.2 85.8 89.1 76.9 89.9 69.0 90.7 62.0 91.6 55.9 92.4 50.5 93.3 45.8 94.1 41.7 95.0 38.0 95.8 34.8 96.9 52.7 98.0 68.6 99.1 82.9 100.1 95.6 101.2 106.9 102.3 117.0 103.4 126.0 104.5 134.1 105.6 141.2 106.7 147.6 107.7 153.3 108.8 158.4 109.9 163.0 111.0 167.0 111.9 148.3 112.7 131.8 113.6 117.3 114.5 104.5 115.3 93.3 116.2 83.5 117.0 74.8 117.9 67.2 118.8 60.5 119.6 54.6 120.5 49.4 121.4 44.8 122.2 40.8 123.1 37.3 123.5 49.0 123.9 59.5 124.3 68.8 124.7 77.2 125.1 84.6 125.5 91.2 126.0 97.1 126.4 102.4 126.8 107.1 127.2 111.3 127.6 115.0 128.0 118.4 128.4 121.3 128.8 124.0 129.5 110.0 130.3 97.8 131.0 87.0 131.8 77.5 132.5 69.1 133.3 61.8 134.0 55.3 134.7 49.6 135.5 44.7 136.2 40.3 137.0 36.4 137.7 33.0 138.5 30.0 139.2 27.4 140.2 44.9 141.2 60.6 142.2 74.5 143.1 87.0 144.1 98.1 145.1 108.0 146.1 116.8 147.1 124.7 148.1 131.7 149.1 138.0 150.0 143.6 151.0 148.6 152.0 153.0 153.0 157.0 153.9 138.2 154.7 121.7 155.6 107.2 156.4 94.4 157.3 83.1 158.1 73.3 159.0 64.6 159.9 56.9 160.7 50.2 161.6 44.3 162.4 39.1 163.3 34.5 164.1 30.5 165.0 27.0 165.6 41.6 166.3 54.7 166.9 66.3 167.6 76.7 168.2 85.9 168.9 94.2 169.5 101.5 170.1 108.1 170.8 113.9 171.4 119.2 172.1 123.8 172.7 128.0 173.4 131.7 174.0 135.0 174.8 118.8 175.6 104.6 176.4 92.1 177.1 81.1 177.9 71.5 178.7 63.0 179.5 55.5 180.3 48.9 181.1 43.2 181.9 38.1 182.6 33.6 183.4 29.7 184.2 26.2 185.0 23.2 186.0 41.3 186.9 57.5 187.9 71.9 188.9 84.7 189.8 96.2 190.8 106.4 191.8 115.5 192.7 123.7 193.7 130.9 194.6 137.4 195.6 143.2 196.6 148.3 197.5 152.9 198.5 157.0 199.4 138.4 200.4 122.0 201.3 107.6 202.2 95.0 203.1 83.8 204.1 74.0 205.0 65.4 205.9 57.9 206.9 51.2 207.8 45.4 208.7 40.2 209.6 35.7 210.6 31.7 211.5 28.2 212.0 40.8 212.5 52.0 213.0 62.0 213.5 70.9 214.0 78.8 214.5 85.9 215.0 92.2 215.5 97.9 216.0 102.9 216.5 107.4 217.0 111.4 217.5 115.0 218.0 118.2 218.5 121.0 219.4 105.4 220.2 91.8 221.1 79.7 222.0 69.2 222.8 59.9 223.7 51.7 224.6 44.5 225.4 38.2 226.3 32.6 227.1 27.7 228.0 23.4 228.9 19.6 229.7 16.3 230.6 13.4 231.6 32.0 232.5 48.6 233.5 63.4 234.4 76.7 235.4 88.4 236.3 99.0 237.3 108.3 238.3 116.7 239.2 124.2 240.2 130.8 241.1 136.8 242.1 142.1 243.0 146.8 244.0 151.0 244.8 133.2 245.7 117.6 246.5 103.8 247.3 91.8 248.1 81.1 249.0 71.8 249.8 63.6 250.6 56.3 251.5 50.0 252.3 44.4 253.1 39.5 253.9 35.1 254.8 31.3 255.6 28.0 256.2 41.3 256.8 53.1 257.4 63.6 258.0 73.1 258.6 81.4 259.2 88.9 259.8 95.6 260.4 101.6 261.0 106.9 261.6 111.6 262.2 115.9 262.8 119.6 263.4 123.0 264.0 126.0 264.7 111.5 265.3 98.7 266.0 87.5 266.7 77.6 267.3 68.9 268.0 61.3 268.6 54.5 269.3 48.6 270.0 43.5 270.6 38.9 271.3 34.9 272.0 31.3 272.6 28.2 273.3 25.5 274.4 44.2 275.5 61.0 276.7 75.9 277.8 89.2 278.9 101.0 280.0 111.6 281.1 121.1 282.3 129.5 283.4 137.0 284.5 143.7 285.6 149.7 286.8 155.0 287.9 159.8 289.0 164.0 289.9 145.4 290.7 129.0 291.6 114.7 292.4 102.0 293.3 90.9 294.1 81.1 295.0 72.5 295.9 64.9 296.7 58.3 297.6 52.4 298.4 47.3 299.3 42.8 300.1 38.8 301.0 35.3 301.6 48.8 302.1 60.8 302.7 71.6 303.3 81.1 303.9 89.7 304.4 97.3 305.0 104.1 305.6 110.2 306.1 115.6 306.7 120.4 307.3 124.7 307.9 128.5 308.4 131.9 309.0 135.0 309.8 119.2 310.6 105.3 311.4 93.0 312.1 82.3 312.9 72.8 313.7 64.5 314.5 57.2 315.3 50.7 316.1 45.1 316.9 40.1 317.6 35.7 318.4 31.9 319.2 28.5 320.0 25.5 321.1 44.1 322.3 60.7 323.4 75.5 324.6 88.7 325.7 100.5 326.9 111.0 328.0 120.4 329.1 128.7 330.3 136.2 331.4 142.8 332.6 148.8 333.7 154.1 334.9 158.8 336.0 163.0 336.9 144.6 337.7 128.4 338.6 114.2 339.5 101.7 340.3 90.7 341.2 81.1 342.1 72.6 342.9 65.1 343.8 58.5 344.6 52.7 345.5 47.7 346.4 43.2 347.2 39.3 348.1 35.8 348.8 49.9 349.5 62.5 350.2 73.7 350.9 83.7 351.6 92.6 352.3 100.6 353.1 107.7 353.8 114.0 354.5 119.7 355.2 124.7 355.9 129.2 356.6 133.2 357.3 136.8 358.0 140.0 358.7 124.3 359.4 110.6 360.1 98.5 360.9 87.8 361.6 78.5 362.3 70.2 363.0 63.0 363.7 56.6 364.4 51.0 365.1 46.1 365.9 41.8 366.6 38.0 367.3 34.6 368.0 31.7 369.3 50.9 370.6 68.0 371.9 83.3 373.1 96.9 374.4 109.0 375.7 119.9 377.0 129.5 378.3 138.2 379.6 145.9 380.9 152.7 382.1 158.8 383.4 164.3 384.7 169.2 386.0 173.5 386.8 155.3 387.6 139.2 388.4 125.1 389.3 112.7 390.1 101.8 390.9 92.2 391.7 83.8 392.5 76.4 393.3 69.8 394.1 64.1 395.0 59.1 395.8 54.6 396.6 50.7 397.4 47.3 398.0 60.9 398.6 73.1 399.2 83.9 399.9 93.6 400.5 102.2 401.1 109.9 401.7 116.8 402.3 122.9 402.9 128.4 403.5 133.2 404.2 137.6 404.8 141.5 405.4 144.9 406.0 148.0 406.6 132.9 407.3 119.6 407.9 108.0 408.5 97.7 409.2 88.7 409.8 80.8 410.4 73.8 411.1 67.6 411.7 62.2 412.4 57.5 413.0 53.3 413.6 49.7 414.3 46.4 414.9 43.6 416.0 60.4 417.1 75.4 418.1 88.8 419.2 100.8 420.3 111.4 421.4 121.0 422.4 129.4 423.5 137.0 424.6 143.7 425.7 149.8 426.8 155.1 427.8 159.9 428.9 164.2 430.0 168.0 430.8 149.9 431.6 133.9 432.4 119.9 433.2 107.6 434.0 96.8 434.8 87.2 435.6 78.8 436.5 71.5 437.3 65.0 438.1 59.3 438.9 54.3 439.7 49.9 440.5 46.0 441.3 42.6 441.9 55.5 442.4 67.0 442.9 77.3 443.5 86.5 444.1 94.6 444.6 101.9 445.1 108.4 445.7 114.2 446.2 119.4 446.8 124.0 447.4 128.1 447.9 131.8 448.4 135.1 449.0 138.0 449.7 122.8 450.5 109.5 451.2 97.8 451.9 87.5 452.7 78.4 453.4 70.4 454.1 63.4 454.9 57.3 455.6 51.8 456.4 47.1 457.1 42.9 457.8 39.2 458.6 36.0 459.3 33.1 460.2 50.0 461.1 65.1 462.0 78.5 462.9 90.5 463.8 101.2 464.7 110.8 465.6 119.3 466.6 126.9 467.5 133.6 468.4 139.7 469.3 145.1 470.2 149.9 471.1 154.2 472.0 158.0 472.8 140.3 473.6 124.7 474.4 111.0 475.3 98.9 476.1 88.3 476.9 79.0 477.7 70.8 478.5 63.6 479.3 57.2 480.1 51.6 481.0 46.7 481.8 42.4 482.6 38.6 483.4 35.3 484.2 49.9 484.9 62.9 485.7 74.5 486.4 84.8 487.2 94.0 487.9 102.3 488.7 109.6 489.5 116.2 490.2 122.0 491.0 127.2 491.7 131.9 492.5 136.0 493.2 139.7 494.0 143.0 494.6 127.9 495.3 114.5 495.9 102.8 496.5 92.5 497.1 83.5 497.8 75.5 498.4 68.5 499.0 62.3 499.7 56.9 500.3 52.2 500.9 48.0 501.5 44.3 502.2 41.0 502.8 38.2 504.1 57.4 505.5 74.5 506.8 89.8 508.1 103.4 509.5 115.5 510.8 126.4 512.1 136.0 513.5 144.7 514.8 152.4 516.2 159.2 517.5 165.3 518.8 170.8 520.2 175.7 521.5 180.0 522.4 160.1 523.2 142.6 524.0 127.2 524.9 113.6 525.8 101.7 526.6 91.2 527.5 82.0 528.3 73.9 529.1 66.8 530.0 60.6 530.9 55.0 531.7 50.2 532.5 45.9 533.4 42.2 533.9 55.0 534.5 66.5 535.0 76.7 535.6 85.8 536.1 93.9 536.7 101.1 537.2 107.6 537.7 113.4 538.3 118.5 538.8 123.1 539.4 127.2 539.9 130.8 540.5 134.1 541.0 137.0 541.8 121.5 542.5 107.9 543.3 95.9 544.0 85.4 544.8 76.2 545.5 68.0 546.3 60.9 547.1 54.6 547.8 49.0 548.6 44.2 549.3 39.9 550.1 36.1 550.8 32.8 551.6 29.9 551.7 33.3 551.9 38.1 552.1 43.7 552.3 49.6 552.5 55.2 552.7 60.0 552.9 64.0 553.2 67.6 553.4 70.9 553.7 74.0 553.9 77.0 554.2 80.0 554.5 82.7 554.7 85.1 555.0 87.4 555.3 89.9 555.6 92.6 556.0 96.0 556.5 100.1 557.0 104.8 557.6 109.9 558.2 115.1 558.9 120.2 559.5 125.0 560.1 129.5 560.7 133.9 561.3 138.2 562.0 142.4 562.7 146.6 563.5 150.7 564.4 154.8 565.5 158.8 566.6 162.8 567.8 166.7 568.9 170.5 570.0 174.0 571.0 177.3 572.0 180.5 573.0 183.5 573.9 186.4 574.9 189.2 576.0 192.0 577.1 194.8 578.3 197.5 579.4 200.2 580.6 202.7 581.8 205.2 583.0 207.5 584.1 209.7 585.2 211.7 586.3 213.6 587.4 215.4 588.7 217.2 590.0 219.0 591.5 220.9 593.1 222.7 594.8 224.6 596.6 226.3 598.3 228.0 600.0 229.6 601.6 231.0 603.1 232.4 604.7 233.6 606.3 234.8 608.0 235.9 610.0 237.0 612.1 238.1 614.3 239.1 616.6 240.1 619.1 241.0 621.9 241.9 625.0 242.7 628.6 243.5 632.6 244.2 636.9 244.9 641.3 245.6 645.7 246.2 650.0 246.8 654.5 247.4 659.3 248.1 664.1 248.7 668.5 249.2 672.3 249.7 675.0 250.0" stroke="#000" stroke-width="1.9" stroke-dasharray="1.7 2.4"/>
</g>
<g stroke="#000" stroke-width="2" fill="none">
<path d="M58 5.3 V284 M57 283 H676.7"/>
<path d="M52 283.00 H58"/>
<path d="M52 236.88 H58"/>
<path d="M52 190.76 H58"/>
<path d="M52 144.64 H58"/>
<path d="M52 98.52 H58"/>
<path d="M52 52.40 H58"/>
<path d="M52 6.28 H58"/>
<path d="M57.80 283 V289"/>
<path d="M119.59 283 V289"/>
<path d="M181.38 283 V289"/>
<path d="M243.17 283 V289"/>
<path d="M304.96 283 V289"/>
<path d="M366.75 283 V289"/>
<path d="M428.54 283 V289"/>
<path d="M490.33 283 V289"/>
<path d="M552.12 283 V289"/>
<path d="M613.91 283 V289"/>
<path d="M675.70 283 V289"/>
</g>
<g font-family="Liberation Sans" font-size="18" fill="#000">
<text x="46.5" y="289.50" text-anchor="end">30</text>
<text x="46.5" y="243.38" text-anchor="end">40</text>
<text x="46.5" y="197.26" text-anchor="end">50</text>
<text x="46.5" y="151.14" text-anchor="end">60</text>
<text x="46.5" y="105.02" text-anchor="end">70</text>
<text x="46.5" y="58.90" text-anchor="end">80</text>
<text x="46.5" y="12.78" text-anchor="end">90</text>
<text x="57.80" y="308" text-anchor="middle">0</text>
<text x="119.59" y="308" text-anchor="middle">1</text>
<text x="181.38" y="308" text-anchor="middle">2</text>
<text x="243.17" y="308" text-anchor="middle">3</text>
<text x="304.96" y="308" text-anchor="middle">4</text>
<text x="366.75" y="308" text-anchor="middle">5</text>
<text x="428.54" y="308" text-anchor="middle">6</text>
<text x="490.33" y="308" text-anchor="middle">7</text>
<text x="552.12" y="308" text-anchor="middle">8</text>
<text x="613.91" y="308" text-anchor="middle">9</text>
<text x="675.70" y="308" text-anchor="middle">10</text>
</g>
<text x="367.6" y="330.5" text-anchor="middle" font-family="Liberation Sans" font-size="18">Time <tspan font-family="Liberation Serif" font-style="italic">t</tspan> in min</text>
<text transform="translate(13.1 237.8) rotate(-90)" font-family="Liberation Sans" font-size="18"><tspan letter-spacing="0.4">Temperature</tspan> <tspan dx="-1.6" font-family="Liberation Serif" font-style="italic">T</tspan><tspan font-family="Liberation Serif" font-size="12.6" dy="3" letter-spacing="0.3">Sim</tspan><tspan dy="-3" letter-spacing="0.05"> in °C</tspan></text>
<rect x="121.8" y="214.6" width="409.8" height="62.5" fill="#fff" stroke="#000" stroke-width="1.5"/>
<g fill="none">
<path d="M128 228.4 H166" stroke="#6b6b6b" stroke-width="1.8"/>
<path d="M128 257.2 H166" stroke="#000" stroke-width="2.0"/>
<path d="M273 228.4 H310" stroke="#6b6b6b" stroke-width="1.6" stroke-dasharray="5.6 2.4"/>
<path d="M273 254 H310" stroke="#000" stroke-width="1.8" stroke-dasharray="5.6 2.4"/>
<path d="M415.5 254 H454" stroke="#000" stroke-width="1.9" stroke-dasharray="1.7 2.4"/>
</g>
<rect x="415.2" y="221" width="38.5" height="14.6" fill="#e0e0e0"/>
<text x="180.0" y="233.9" font-family="Liberation Serif" font-size="18"><tspan font-style="italic">T</tspan><tspan font-size="12.6" dy="2.5">Edge</tspan></text>
<text x="180.0" y="262.6" font-family="Liberation Serif" font-size="18"><tspan font-style="italic">T</tspan><tspan font-size="12.6" dy="2.5">SimEdge</tspan></text>
<text x="324.0" y="233.7" font-family="Liberation Serif" font-size="18"><tspan font-style="italic">T</tspan><tspan font-size="12.6" dy="2.5">Base</tspan></text>
<text x="324.0" y="258.8" font-family="Liberation Serif" font-size="18"><tspan font-style="italic">T</tspan><tspan font-size="12.6" dy="2.5">SimBase</tspan></text>
<text x="467" y="233.7" font-family="Liberation Serif" font-size="18" font-style="italic">Load</text>
<text x="466.8" y="258.8" font-family="Liberation Serif" font-size="18"><tspan font-style="italic">T</tspan><tspan font-size="12.6" dy="2.5">SimZone</tspan></text>
</svg>
</body></html>
